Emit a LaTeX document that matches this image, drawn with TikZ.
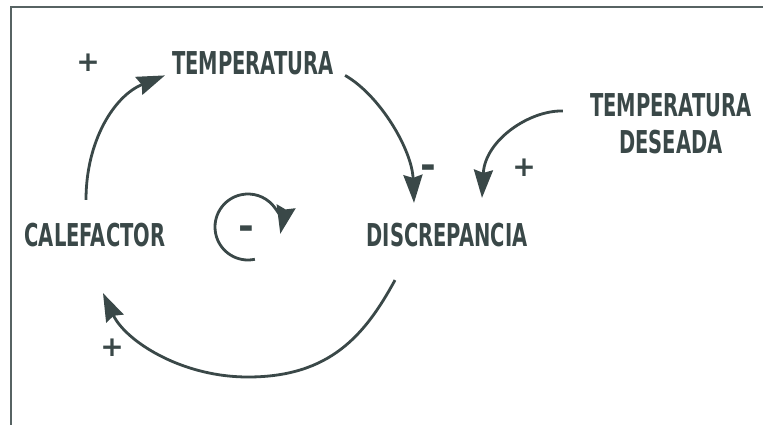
\documentclass[tikz,border=0pt]{standalone}
\usepackage{fontspec}
\setmainfont{DejaVu Sans}
\newfontfamily\labfont[FakeStretch=0.62]{DejaVu Sans Bold}
\newfontfamily\signfont{DejaVu Sans Bold}
\usetikzlibrary{arrows.meta}
\definecolor{ink}{HTML}{3A4848}
\begin{document}
\begin{tikzpicture}[x=1pt,y=-1pt,
  lab/.style={font=\labfont\fontsize{31.5}{37}\selectfont, text=ink, inner sep=0pt, align=center},
  sign/.style={font=\signfont\fontsize{28}{28}\selectfont, text=ink, inner sep=0pt},
  minus/.style={font=\signfont\fontsize{38}{38}\selectfont, text=ink, inner sep=0pt},
  link/.style={draw=ink, line width=2.8pt, -{Stealth[length=28pt,width=19pt,inset=3pt]}}]
\useasboundingbox (0,0) rectangle (763,425);
\fill[white] (0,0) rectangle (763,425);
\draw[ink!85, line width=1.5pt] (11,425) -- (11,7) -- (763,7);
% variables
\node[lab] (temp) at (253,63.5) {TEMPERATURA};
\node[lab] (cal)  at (95,235) {CALEFACTOR};
\node[lab] (disc) at (447,235) {DISCREPANCIA};
\node[lab] (des)  at (671,123.5) {TEMPERATURA\\DESEADA};
% polarity signs
\node[sign]  (p1) at (88,63) {+};
\node[minus] (m1) at (428,172) {-};
\node[sign]  (p2) at (524,168) {+};
\node[minus] (loopsign) at (246,233) {-};
\node[sign]  (p3) at (112,348) {+};
% causal links
\draw[link] ([shift={(-9,-23)}]cal.north) .. controls +(0,-60) and +(-50,20) .. ([shift={(-7,0)}]temp.south west);
\draw[link] ([shift={(11,0)}]temp.south east) .. controls +(35,20) and +(-2,-53) .. ([shift={(-33,-20)}]disc.north);
\draw[link] ([shift={(-27,-12.5)}]des.west) .. controls +(-33,-1) and +(3,-58) .. ([shift={(35,-25)}]disc.north);
\draw[link] ([shift={(-52,33)}]disc.south) .. controls +(-30,55) and +(82,0) .. (248,377)
  .. controls +(-68,0) and +(22,47) .. ([shift={(8,46)}]cal.south);
% loop indicator
\draw[link] ([shift={(78:33)}]248,227) arc[start angle=78, end angle=372, radius=33];
\end{tikzpicture}
\end{document}
